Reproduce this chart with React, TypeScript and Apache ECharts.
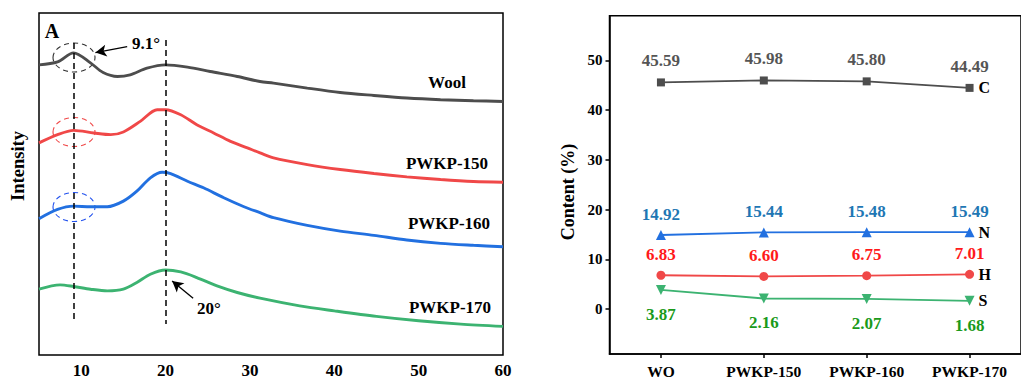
import React, { useEffect, useRef } from "react";
import * as echarts from "echarts";

const FONT = '"Liberation Serif", "Times New Roman", serif';

// ---- Panel A: XRD (2θ in degrees, intensity in arbitrary units) ----
const woolX = [5, 7.2, 9.1, 11.1, 12.6, 14.3, 15.8, 17.8, 20, 22.6, 25.3, 28.5, 31.2, 32.8, 36.8, 40.7, 44.7, 48.6, 52.6, 56.5, 60];
const woolY = [291, 294, 303, 293, 283.3, 279.3, 281, 287.7, 291, 288.7, 284.3, 279.3, 274.3, 272.7, 267.7, 263.3, 260.3, 257.7, 256, 255, 254.3];

const p150X = [5, 7.2, 9.1, 11.5, 13.5, 15, 17, 19, 20, 21.8, 23.7, 25.7, 27.7, 29.7, 31.2, 32.8, 36.8, 40.7, 44.7, 48.6, 52.6, 56.5, 60];
const p150Y = [212.7, 221, 225.3, 222.7, 221, 223.7, 234.3, 246, 246, 241, 231, 222.7, 214.3, 207.7, 202.7, 197.7, 191, 186, 182, 178.7, 176, 174, 173.3];

const p160X = [5, 7.2, 9.1, 11.1, 13.1, 15, 16.6, 18.2, 19.6, 20.6, 22.6, 24.5, 26.9, 29.3, 31.2, 32.8, 36.8, 40.7, 44.7, 48.6, 52.6, 56.5, 60];
const p160Y = [136.7, 146, 149.3, 148.7, 148.7, 154.3, 164.3, 177.7, 183.3, 182, 174.3, 167.7, 157.7, 148.7, 142.7, 137.7, 130, 124.3, 120, 115.3, 112, 110, 108.5];

const p170X = [5, 7.5, 9.1, 11.1, 13.1, 15, 16.6, 18.2, 20, 21.8, 23.7, 26.1, 28.5, 31.2, 35.9, 40, 45, 50, 55, 60];
const p170Y = [66, 70.3, 68.7, 66, 64.3, 66, 72.7, 81, 85.3, 83.3, 77.7, 69.3, 62.7, 57, 49.3, 44.3, 38.7, 34.3, 31, 28.7];

const xrdTicks = [10, 20, 30, 40, 50, 60];

// ---- Panel B: element content ----
const samples = ["WO", "PWKP-150", "PWKP-160", "PWKP-170"];
const carbon = [45.59, 45.98, 45.8, 44.49];
const nitrogen = [14.92, 15.44, 15.48, 15.49];
const hydrogen = [6.83, 6.6, 6.75, 7.01];
const sulfur = [3.87, 2.16, 2.07, 1.68];
const contentTicks = [0, 10, 20, 30, 40, 50];

const pairs = (xs: number[], ys: number[]) => xs.map((x, i) => [x, ys[i]]);
const fmt2 = (p: any) => Number(p.value).toFixed(2);

const xrdLine = (name: string, xs: number[], ys: number[], color: string, extra: any = {}) => ({
  type: "line",
  name,
  xAxisIndex: 0,
  yAxisIndex: 0,
  data: pairs(xs, ys),
  showSymbol: false,
  smooth: 0.3,
  lineStyle: { color, width: 2.9 },
  itemStyle: { color },
  silent: true,
  ...extra,
});

const contentLine = (
  name: string,
  data: number[],
  color: string,
  labelColor: string,
  symbol: string,
  symbolSize: number,
  pos: string,
  dist: number,
  rot = 0
) => ({
  type: "line",
  name,
  xAxisIndex: 1,
  yAxisIndex: 1,
  data,
  symbol,
  symbolSize,
  symbolRotate: rot,
  lineStyle: { color, width: 1.8 },
  itemStyle: { color },
  label: {
    show: true,
    position: pos,
    distance: dist,
    formatter: fmt2,
    color: labelColor,
    fontSize: 17,
    fontWeight: "bold",
    fontFamily: FONT,
  },
  endLabel: {
    show: true,
    formatter: name,
    distance: 9,
    color: "#000",
    fontSize: 16,
    fontWeight: "bold",
    fontFamily: FONT,
  },
});

const txt = (text: string, x: number, y: number, size: number, extra: any = {}) => ({
  type: "text",
  x,
  y,
  silent: true,
  ...extra,
  style: {
    text,
    font: `bold ${size}px ${FONT}`,
    fill: "#000",
    align: "center",
    verticalAlign: "middle",
  },
});

const ell = (cx: number, cy: number, stroke: string) => ({
  type: "ellipse",
  silent: true,
  shape: { cx, cy, rx: 21, ry: 14.5 },
  style: { fill: "none", stroke, lineWidth: 1.1, lineDash: [5, 4] },
});

export default function App() {
  const ref = useRef<HTMLDivElement>(null);
  useEffect(() => {
    const chart = echarts.init(ref.current as HTMLDivElement, null, { renderer: "svg" });
    const option: any = {
      animation: false,
      textStyle: { fontFamily: FONT },
      grid: [
        { left: 39, top: 13, width: 464, height: 343, show: true, borderColor: "#000", borderWidth: 1.5 },
        { left: 609.5, top: 15.7, width: 422, height: 340.3, show: true, borderColor: "#000", borderWidth: 1.5 },
      ],
      xAxis: [
        {
          type: "value",
          gridIndex: 0,
          min: 5,
          max: 60,
          axisLine: { show: false, onZero: false },
          axisTick: { show: false },
          splitLine: { show: false },
          axisLabel: { customValues: xrdTicks, fontSize: 17, fontWeight: "bold", color: "#000", margin: 7, fontFamily: FONT },
        },
        {
          type: "category",
          gridIndex: 1,
          data: samples,
          boundaryGap: true,
          axisLine: { show: true, onZero: false, lineStyle: { color: "#000", width: 1.5 } },
          axisTick: { show: true, alignWithLabel: true, length: 4, lineStyle: { color: "#000", width: 1.5 } },
          axisLabel: { fontSize: 15.5, fontWeight: "bold", color: "#000", margin: 9, fontFamily: FONT },
          splitLine: { show: false },
        },
      ],
      yAxis: [
        {
          type: "value",
          gridIndex: 0,
          min: 0,
          max: 343,
          axisLine: { show: false },
          axisTick: { show: false },
          axisLabel: { show: false },
          splitLine: { show: false },
        },
        {
          type: "value",
          gridIndex: 1,
          min: -9,
          max: 59,
          axisLine: { show: true, onZero: false, lineStyle: { color: "#000", width: 1.5 } },
          axisTick: { show: true, length: 4, customValues: contentTicks, lineStyle: { color: "#000", width: 1.5 } },
          axisLabel: { customValues: contentTicks, fontSize: 15, fontWeight: "bold", color: "#000", margin: 7, fontFamily: FONT },
          splitLine: { show: false },
        },
      ],
      series: [
        xrdLine("Wool", woolX, woolY, "#4d4d4d", {
          markLine: {
            silent: true,
            symbol: ["none", "none"],
            symbolSize: [9, 11],
            label: { show: false },
            lineStyle: { color: "#000", width: 1.5, type: [6, 4] },
            data: [
              [{ coord: [9.1, 313] }, { coord: [9.1, 36] }],
              [{ coord: [20, 316] }, { coord: [20, 31] }],
              [
                { coord: [11.69, 303.3], symbol: "arrow", lineStyle: { type: "solid", width: 1.3 } },
                { coord: [15.45, 309.3], symbol: "none" },
              ],
              [
                { coord: [20.78, 74.3], symbol: "arrow", lineStyle: { type: "solid", width: 1.3 } },
                { coord: [23.27, 57], symbol: "none" },
              ],
            ],
          },
        }),
        xrdLine("PWKP-150", p150X, p150Y, "#f04848"),
        xrdLine("PWKP-160", p160X, p160Y, "#2270e0"),
        xrdLine("PWKP-170", p170X, p170Y, "#3cb371"),
        contentLine("C", carbon, "#4d4d4d", "#555555", "rect", 8, "top", 9),
        contentLine("N", nitrogen, "#2270e0", "#1f77b4", "triangle", 10, "top", 7),
        contentLine("H", hydrogen, "#f04848", "#ff1a1a", "circle", 9, "top", 8),
        contentLine("S", sulfur, "#3cb371", "#1a9a1a", "triangle", 10, "bottom", 11, 180),
      ],
      graphic: [
        ell(74, 57.5, "#333"),
        ell(74, 132, "#f04848"),
        ell(74, 207, "#2050ee"),
        txt("A", 52, 31, 20),
        txt("9.1°", 146, 43, 17),
        txt("20°", 209, 308, 17),
        txt("Wool", 447, 82, 17),
        txt("PWKP-150", 447, 163, 17),
        txt("PWKP-160", 449, 223, 17),
        txt("PWKP-170", 450, 307, 17),
        txt("Intensity", 18, 166, 18.5, { rotation: Math.PI / 2 }),
        txt("Content (%)", 568, 192, 18, { rotation: Math.PI / 2 }),
      ],
    };
    chart.setOption(option);
    return () => chart.dispose();
  }, []);
  return (
    <div
      ref={ref}
      style={{ position: "fixed", left: 0, top: 0, width: 1021, height: 379, background: "#fff" }}
    />
  );
}
